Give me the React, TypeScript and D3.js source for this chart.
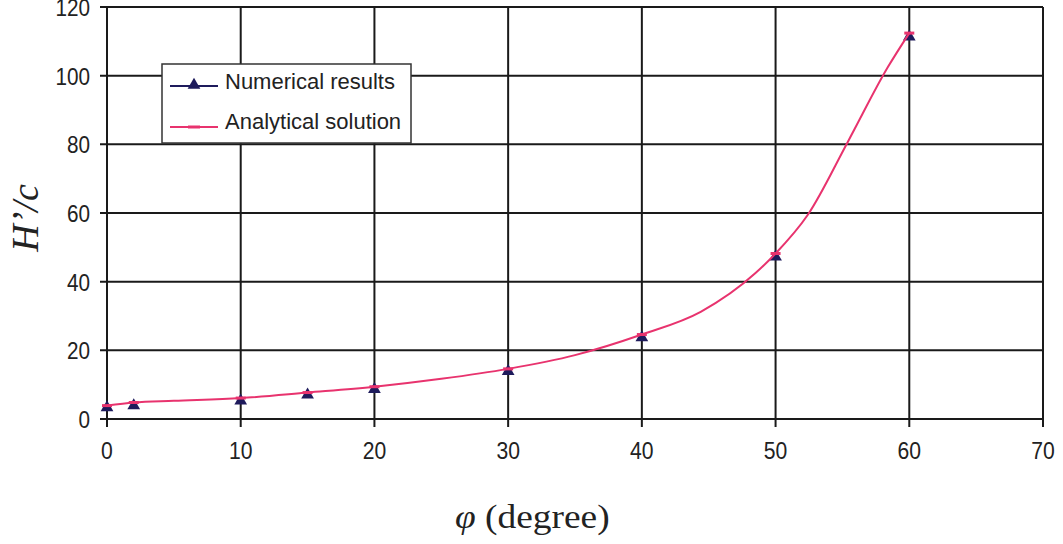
import React from "react";
import * as d3 from "d3";

const numPhi = [0, 2, 10, 15, 20, 30, 40, 50, 60];
const numVal = [3.6, 4.2, 5.6, 7.3, 8.9, 14.2, 24.0, 47.5, 111.6];
const anaPhi = [0, 2, 5, 10, 15, 20, 25, 30, 35, 40, 44.4, 48.5, 50, 52.4, 55.4, 58.4, 60];
const anaVal = [3.9, 4.8, 5.3, 6.1, 7.7, 9.4, 11.7, 14.6, 18.6, 24.6, 31.2, 42.5, 48.2, 59.4, 80.7, 102.5, 112.4];
const xTicks = [0, 10, 20, 30, 40, 50, 60, 70];
const yTicks = [0, 20, 40, 60, 80, 100, 120];
const legendLabels = ["Numerical results", "Analytical solution"];

const W = 1063, H = 544;
const left = 107, right = 1043, top = 7, bottom = 419;
const navy = "#1e1b5c";
const pink = "#e8336e";
const grid = "#1a1a1a";
const sans = "Liberation Sans, Arial";
const serif = "Liberation Serif, Times New Roman";

export default function App() {
  const x = d3.scaleLinear().domain([0, 70]).range([left, right]);
  const y = d3.scaleLinear().domain([0, 120]).range([bottom, top]);
  const line = d3.line<number>().x((_, i) => x(anaPhi[i])).y((d) => y(d)).curve(d3.curveMonotoneX);
  const tri = d3.symbol().type(d3.symbolTriangle).size(70)();
  return (
    <svg width={W} height={H} style={{ position: "absolute", left: 0, top: 0, background: "#fff" }}>
      <rect x={0} y={0} width={W} height={H} fill="#fff" />
      {xTicks.map((t) => (
        <line key={"gx" + t} x1={x(t)} x2={x(t)} y1={top} y2={bottom + 8} stroke={grid} strokeWidth={2} />
      ))}
      {yTicks.map((t) => (
        <line key={"gy" + t} x1={left - 7} x2={right} y1={y(t)} y2={y(t)} stroke={grid} strokeWidth={2} />
      ))}
      {xTicks.map((t) => (
        <text key={"tx" + t} transform={`translate(${x(t)},${bottom + 40}) scale(0.92,1)`} textAnchor="middle" fontFamily={sans} fontSize={23} fill="#222">{t}</text>
      ))}
      {yTicks.map((t) => (
        <text key={"ty" + t} transform={`translate(${left - 17},${y(t) + 9}) scale(0.9,1)`} textAnchor="end" fontFamily={sans} fontSize={23} fill="#222">{t}</text>
      ))}
      {numPhi.map((p, i) => (
        <path key={"m" + i} d={tri!} transform={`translate(${x(p)},${y(numVal[i]) + 1})`} fill={navy} />
      ))}
      <path d={line(anaVal)!} fill="none" stroke={pink} strokeWidth={2} />
      {numPhi.map((p, i) => (
        <line key={"am" + i} x1={x(p) - 5} x2={x(p) + 5} y1={y(anaVal[anaPhi.indexOf(p)])} y2={y(anaVal[anaPhi.indexOf(p)])} stroke={pink} strokeWidth={3} />
      ))}
      <g>
        <rect x={162} y={64} width={249} height={79} fill="#fff" stroke="#333" strokeWidth={1.5} />
        <line x1={170} x2={218} y1={86} y2={86} stroke={navy} strokeWidth={2} />
        <path d={tri!} transform="translate(194,85)" fill={navy} />
        <text x={225} y={89} fontFamily={sans} fontSize={22} fill="#222">{legendLabels[0]}</text>
        <line x1={170} x2={218} y1={127} y2={127} stroke={pink} strokeWidth={2} />
        <line x1={188} x2={200} y1={127} y2={127} stroke={pink} strokeWidth={3} />
        <text x={225} y={129} fontFamily={sans} fontSize={22} fill="#222">{legendLabels[1]}</text>
      </g>
      <text transform="translate(455,528) scale(1.1,1)" textAnchor="start" fontFamily={serif} fontSize={34} fill="#222">
        <tspan fontStyle="italic">φ</tspan> (degree)
      </text>
      <text transform="translate(38,218) rotate(-90)" textAnchor="middle" fontFamily={serif} fontSize={38} fontStyle="italic" fill="#222">H’/c</text>
    </svg>
  );
}
